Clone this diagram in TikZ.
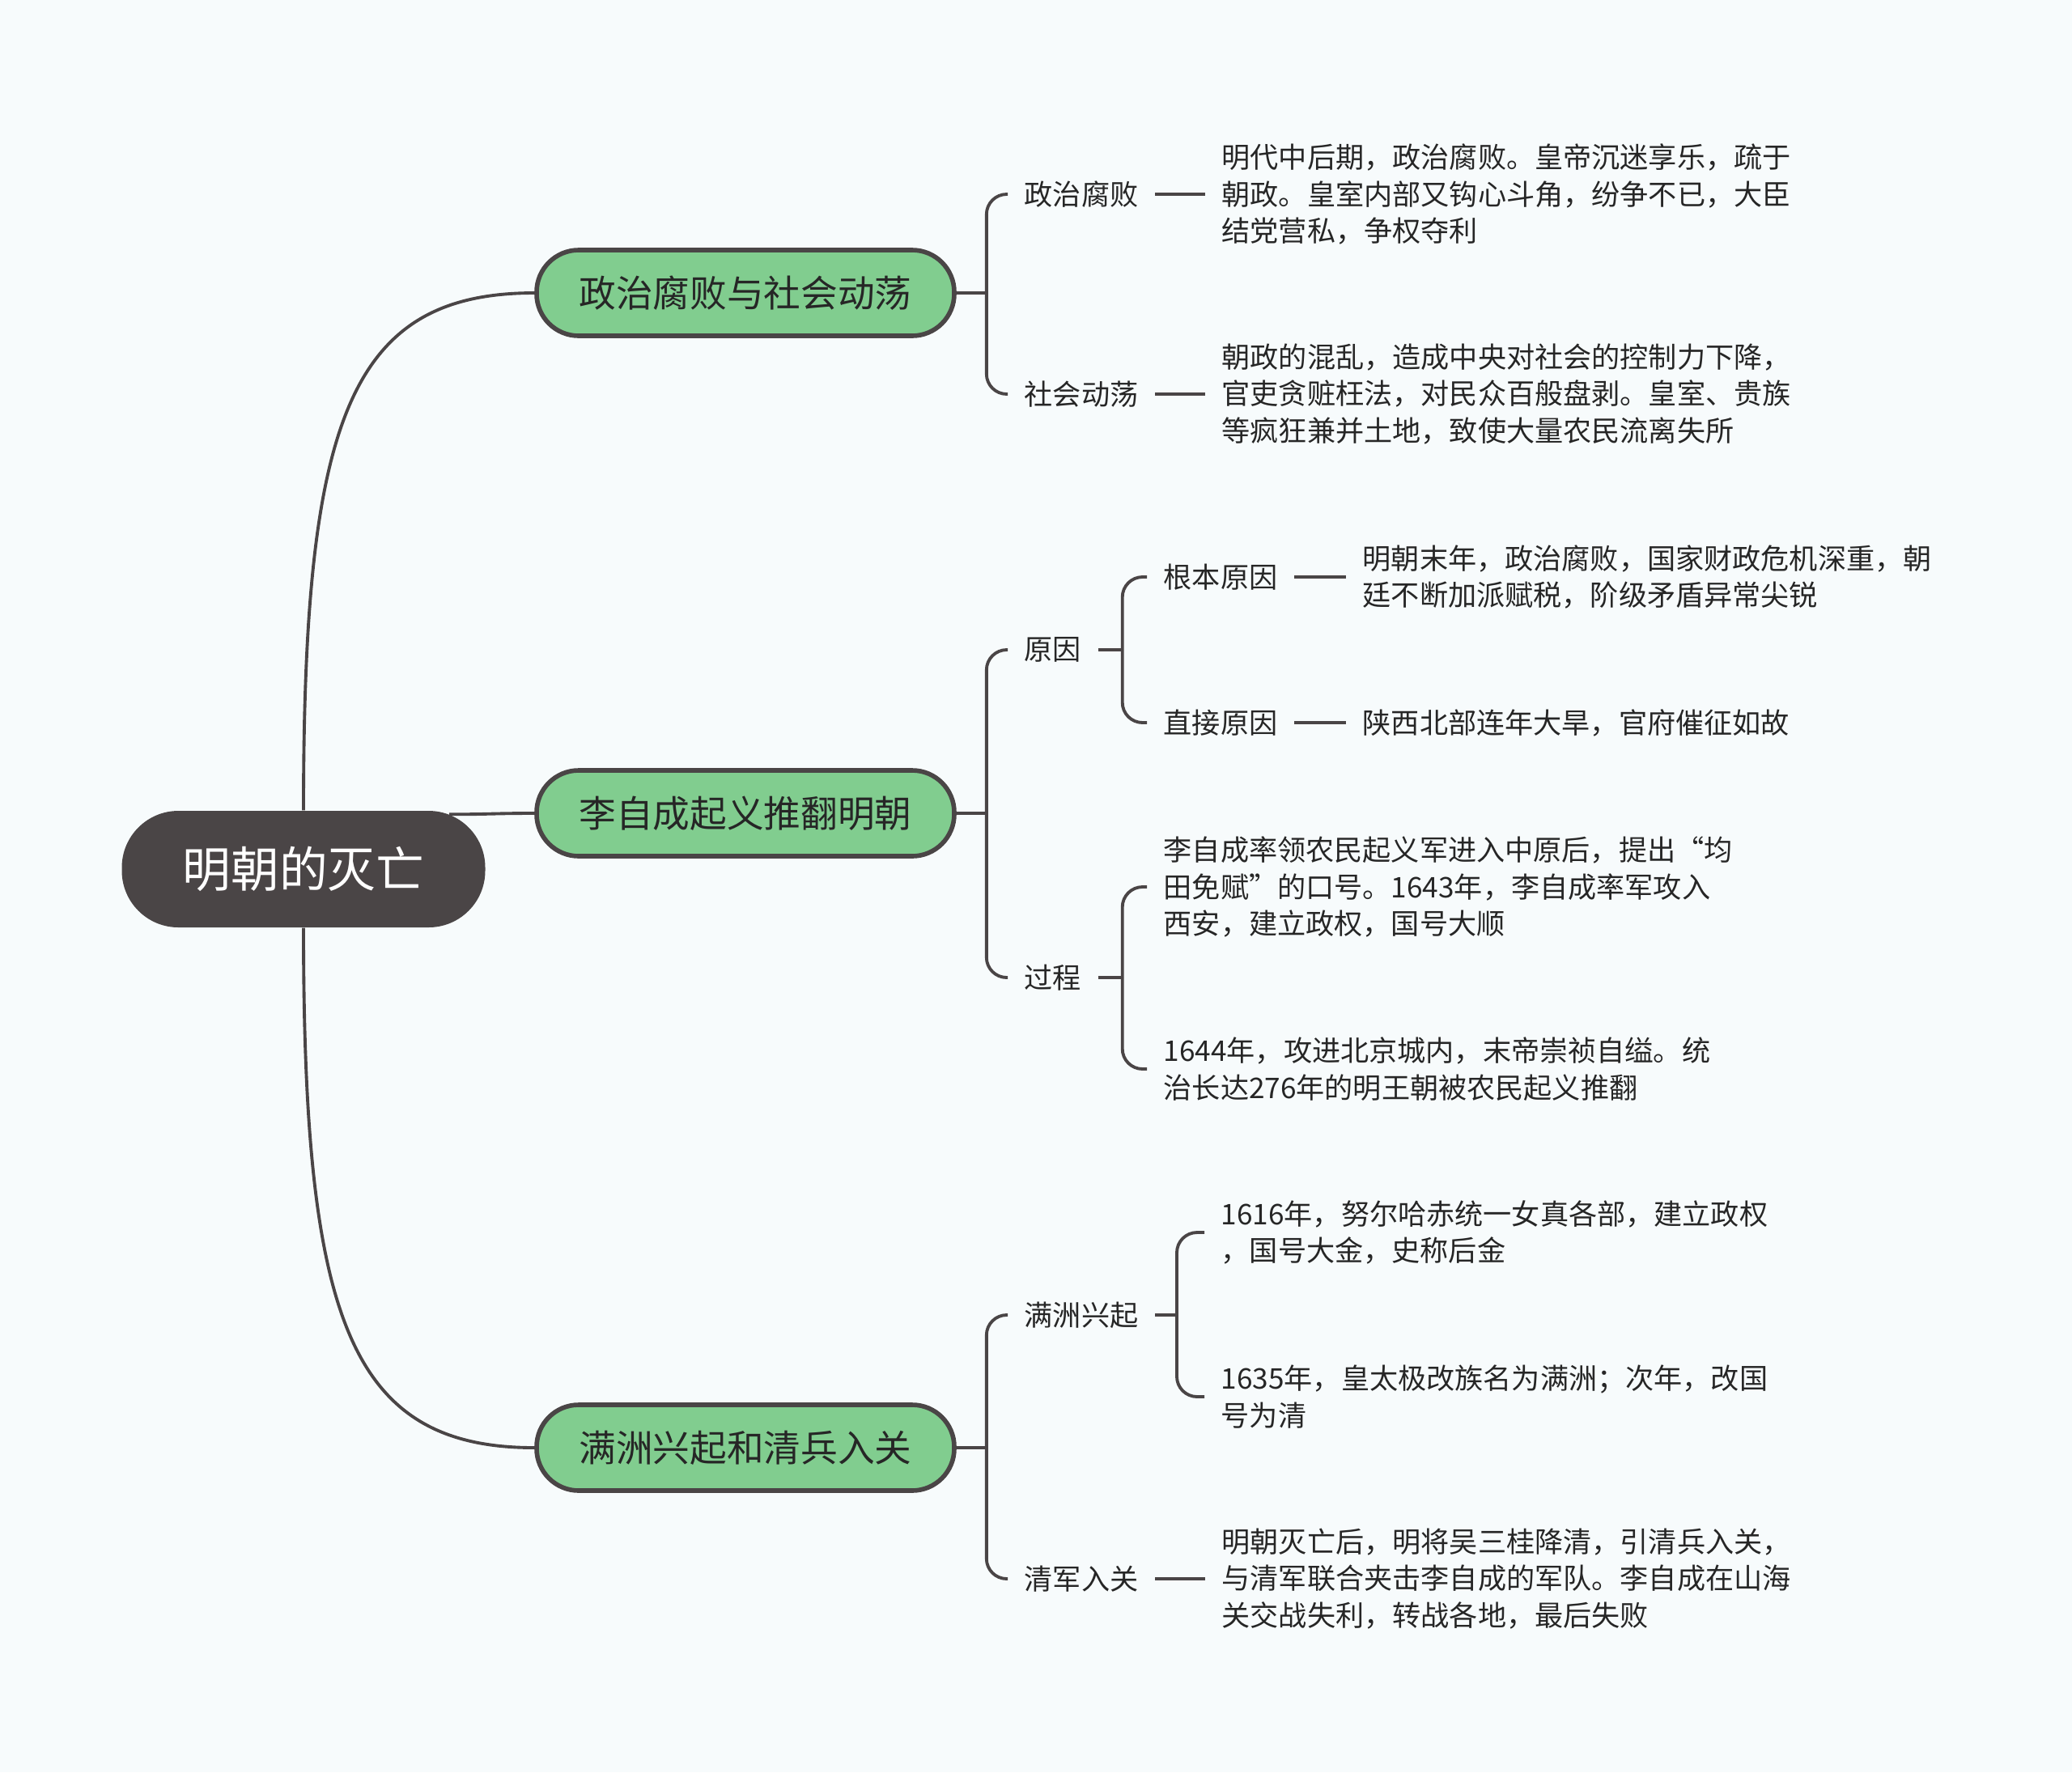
\documentclass[tikz,border=0pt]{standalone}
\usepackage{fontspec}
\setmainfont{Noto Sans CJK SC}
\usepackage{xcolor}
\usepackage{tikz}
\usetikzlibrary{positioning}

\definecolor{pagebg}{HTML}{F7FBFC}
\definecolor{rootgray}{HTML}{4A4546}
\definecolor{linegray}{HTML}{4A4546}
\definecolor{topicgreen}{HTML}{81CD8F}
\definecolor{textdark}{HTML}{262626}

\begin{document}
\begin{tikzpicture}[
    rootbox/.style={rectangle, rounded corners=0.7cm, fill=rootgray, text=white, minimum width=4.49cm, minimum height=1.44cm, font=\fontsize{17}{20}\selectfont},
    topic/.style={rectangle, rounded corners=0.52cm, draw=linegray, line width=1.6pt, fill=topicgreen, text=textdark, minimum width=5.16cm, minimum height=1.06cm, font=\fontsize{13}{16}\selectfont},
    sub/.style={inner sep=0.2cm, text=textdark, font=\fontsize{10}{13}\selectfont},
    leaf/.style={sub, align=left},
    link/.style={draw=linegray, line width=1.1pt},
]
\fill[pagebg] (0,0) rectangle (25.6,-21.9);
\useasboundingbox (0,0) rectangle (25.6,-21.9);

\node[rootbox] (main) at (3.75,-10.74) {明朝的灭亡};
\node[topic] (t1) at (9.21,-3.62) {政治腐败与社会动荡};
\node[topic] (t2) at (9.21,-10.05) {李自成起义推翻明朝};
\node[topic] (t3) at (9.21,-17.89) {满洲兴起和清兵入关};

% first branch
\node[sub, anchor=west] (s11) at (12.45,-2.40) {政治腐败};
\node[sub, anchor=west] (s12) at (12.45,-4.87) {社会动荡};
\node[leaf, right=0.62cm of s11] (n11) {明代中后期，政治腐败。皇帝沉迷享乐，疏于\\朝政。皇室内部又钩心斗角，纷争不已，大臣\\结党营私，争权夺利};
\node[leaf, right=0.62cm of s12] (n12) {朝政的混乱，造成中央对社会的控制力下降，\\官吏贪赃枉法，对民众百般盘剥。皇室、贵族\\等疯狂兼并土地，致使大量农民流离失所};

% second branch
\node[sub, anchor=west] (s21) at (12.45,-8.03) {原因};
\node[sub, anchor=west] (s22) at (12.45,-12.08) {过程};
\node[sub, anchor=west] (s211) at (14.17,-7.13) {根本原因};
\node[sub, anchor=west] (s212) at (14.17,-8.93) {直接原因};
\node[leaf, right=0.64cm of s211] (n211) {明朝末年，政治腐败，国家财政危机深重，朝\\廷不断加派赋税，阶级矛盾异常尖锐};
\node[leaf, right=0.64cm of s212] (n212) {陕西北部连年大旱，官府催征如故};
\node[leaf, anchor=west] (n221) at (14.17,-10.96) {李自成率领农民起义军进入中原后，提出“均\\田免赋”的口号。1643年，李自成率军攻入\\西安，建立政权，国号大顺};
\node[leaf, anchor=west] (n222) at (14.17,-13.21) {1644年，攻进北京城内，末帝崇祯自缢。统\\治长达276年的明王朝被农民起义推翻};

% third branch
\node[sub, anchor=west] (s31) at (12.45,-16.25) {满洲兴起};
\node[sub, anchor=west] (s32) at (12.45,-19.51) {清军入关};
\node[leaf, anchor=west] (n311) at (14.88,-15.23) {1616年，努尔哈赤统一女真各部，建立政权\\，国号大金，史称后金};
\node[leaf, anchor=west] (n312) at (14.88,-17.26) {1635年，皇太极改族名为满洲；次年，改国\\号为清};
\node[leaf, right=0.62cm of s32] (n32) {明朝灭亡后，明将吴三桂降清，引清兵入关，\\与清军联合夹击李自成的军队。李自成在山海\\关交战失利，转战各地，最后失败};

% root to topics
\draw[link] (main.north) .. controls +(0,4.8) and +(-2.3,0) .. (t1.west);
\draw[link] ([xshift=-0.45cm,yshift=-0.05cm]main.north east) .. controls +(0.5,0) and +(-0.5,0) .. (t2.west);
\draw[link] (main.south) .. controls +(0,-4.8) and +(-2.3,0) .. (t3.west);

% forks
\coordinate (f1) at ([xshift=0.37cm]t1.east);
\coordinate (f2) at ([xshift=0.37cm]t2.east);
\coordinate (f3) at ([xshift=0.37cm]t3.east);
\coordinate (f21) at ([xshift=0.3cm]s21.east);
\coordinate (f22) at ([xshift=0.3cm]s22.east);
\coordinate (f31) at ([xshift=0.27cm]s31.east);

\draw[link] (t1.east) -- (f1);
\draw[link] (t2.east) -- (f2);
\draw[link] (t3.east) -- (f3);
\draw[link] (s21.east) -- (f21);
\draw[link] (s22.east) -- (f22);
\draw[link] (s31.east) -- (f31);

\draw[link, rounded corners=0.25cm] (f1) |- (s11.west);
\draw[link, rounded corners=0.25cm] (f1) |- (s12.west);
\draw[link, rounded corners=0.25cm] (f2) |- (s21.west);
\draw[link, rounded corners=0.25cm] (f2) |- (s22.west);
\draw[link, rounded corners=0.25cm] (f3) |- (s31.west);
\draw[link, rounded corners=0.25cm] (f3) |- (s32.west);
\draw[link, rounded corners=0.25cm] (f21) |- (s211.west);
\draw[link, rounded corners=0.25cm] (f21) |- (s212.west);
\draw[link, rounded corners=0.25cm] (f22) |- (n221.west);
\draw[link, rounded corners=0.25cm] (f22) |- (n222.west);
\draw[link, rounded corners=0.25cm] (f31) |- (n311.west);
\draw[link, rounded corners=0.25cm] (f31) |- (n312.west);

% dashes to the texts
\draw[link] (s11.east) -- (n11.west);
\draw[link] (s12.east) -- (n12.west);
\draw[link] (s211.east) -- (n211.west);
\draw[link] (s212.east) -- (n212.west);
\draw[link] (s32.east) -- (n32.west);
\end{tikzpicture}
\end{document}
